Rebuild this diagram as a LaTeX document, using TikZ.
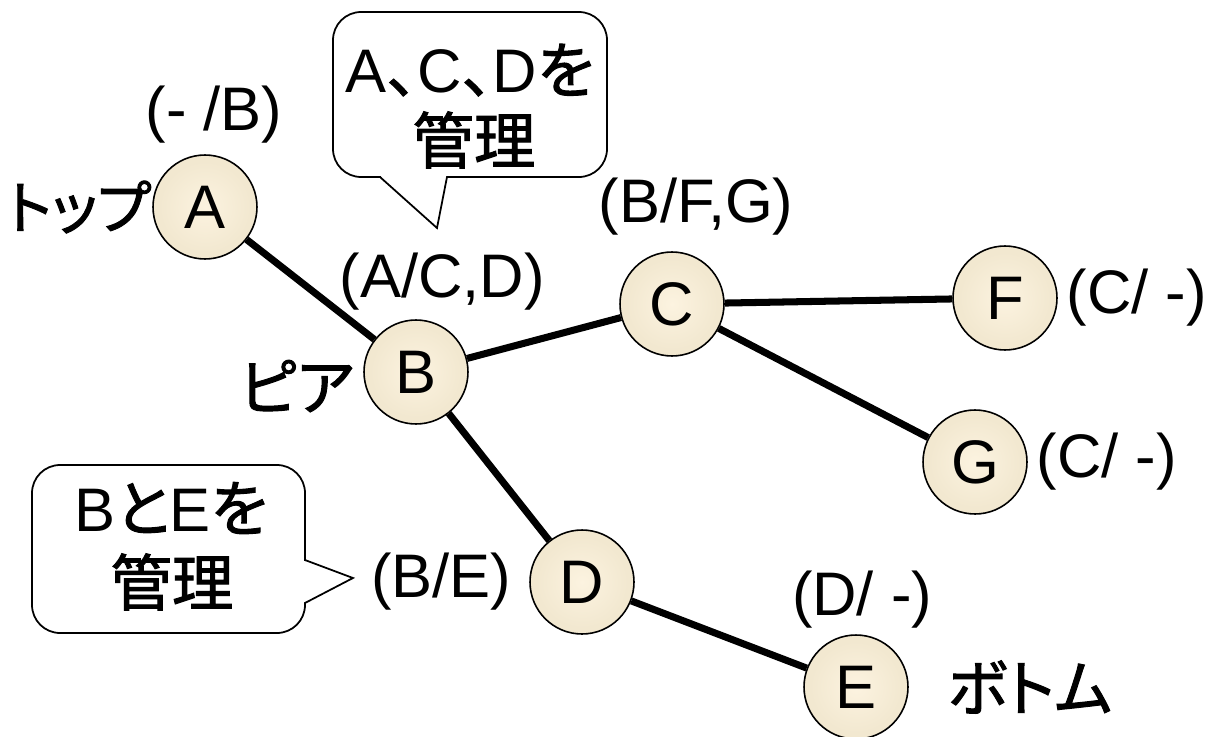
\documentclass[tikz,border=0pt]{standalone}
\usepackage{fontspec}
\setmainfont{Liberation Sans}
\newfontfamily\jp[RawFeature=+palt, FakeBold=1.6]{Noto Sans CJK JP}
\usetikzlibrary{positioning}
\definecolor{peerin}{RGB}{252,243,224}
\definecolor{peermid}{RGB}{242,232,208}
\definecolor{peerout}{RGB}{212,196,154}
\pgfdeclareradialshading{peerglow}{\pgfpoint{0bp}{0bp}}{color(0bp)=(peerin); color(22bp)=(peermid); color(44bp)=(peermid); color(50bp)=(peerout)}

\begin{document}
\begin{tikzpicture}[
  x=0.02cm, y=-0.02cm,
  peer/.style={circle, draw=black, line width=0.9pt, shading=peerglow,
    minimum size=2.08cm, inner sep=0pt, font=\fontsize{35}{40}\selectfont},
  info/.style={inner sep=0pt, font=\fontsize{35}{40}\selectfont},
  role/.style={inner sep=0pt, font=\fontsize{35}{40}\selectfont\jp},
  link/.style={line width=4pt},
  note/.style={draw=black, fill=white, line width=1pt, rounded corners=16},
  tail/.style={draw=black, line width=1pt, line join=miter}
]
\useasboundingbox (0,0) rectangle (1207,737);

% Peers
\node[peer] (A) at (205,207) {A};
\node[peer] (B) at (416,372) {B};
\node[peer] (C) at (672,304) {C};
\node[peer] (F) at (1005,298) {F};
\node[peer] (G) at (975,462) {G};
\node[peer] (D) at (582,582) {D};
\node[peer] (E) at (856,687) {E};

% Links
\draw[link] (A) -- (B);
\draw[link] (B) -- (C);
\draw[link] (B) -- (D);
\draw[link] (C) -- (F);
\draw[link] (C) -- (G);
\draw[link] (D) -- (E);

% Parent/child tables
\node[info] (tA) at (214,115) {(- /B)};
\node[info] (tB) at (442,282) {(A/C,D)};
\node[info] (tC) at (696,207) {(B/F,G)};
\node[info, right=5pt of F] (tF) {(C/ -)};
\node[info, right=5pt of G] (tG) {(C/ -)};
\node[info, left=10pt of D] (tD) {(B/E)};
\node[info] (tE) at (862,600) {(D/ -)};

% Roles
\node[role, font=\fontsize{33}{40}\selectfont\jp, anchor=east] (top) at (151,207) {トップ};
\node[role, left=5pt of B, yshift=-8pt] (mid) {ピア};
\node[role, right=22pt of E] (bot) {ボトム};

% Callout over B
\draw[note] (333,12) rectangle (607,177);
\fill[white] (381,172) -- (381,177) -- (437,228) -- (446,177) -- (446,172) -- cycle;
\draw[tail] (380,177) -- (437,228) -- (447,177);
\node[info] (n1a) at (470,70) {A{\jp 、}C{\jp 、}D{\jp を}};
\node[role] (n1b) at (474,140) {管理};

% Callout by D
\draw[note] (32,465) rectangle (305,633);
\fill[white] (300,561) -- (305,561) -- (353,578) -- (305,602) -- (300,602) -- cycle;
\draw[tail] (305,560) -- (353,578) -- (305,603);
\node[info] (n2a) at (171,508) {B{\jp と}E{\jp を}};
\node[role] (n2b) at (172,582) {管理};
\end{tikzpicture}
\end{document}
